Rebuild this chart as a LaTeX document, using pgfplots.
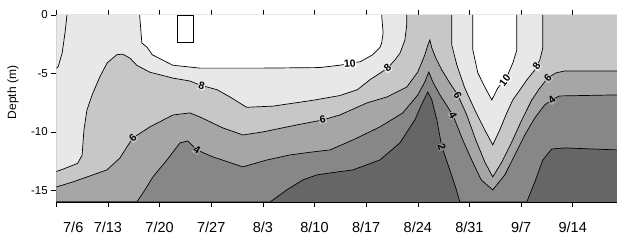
\documentclass[border=0pt]{standalone}
\usepackage{pgfplots}
\pgfplotsset{compat=1.18}
\usepackage{pgfplotstable}
\usepackage{fontspec}
\setmainfont{Liberation Sans}

\definecolor{c10}{gray}{1.0}
\definecolor{c810}{gray}{0.91}
\definecolor{c68}{gray}{0.78}
\definecolor{c46}{gray}{0.65}
\definecolor{c24}{gray}{0.53}
\definecolor{c02}{gray}{0.40}

% contour 2 (lower boundary of the region > 2)
\pgfplotstableread{
x y
0 -16
29.0 -16
31.25 -14.97
33.42 -14.12
35.32 -13.69
37.09 -13.52
40.2 -13.26
43.86 -12.41
46.57 -10.95
48.6 -8.98
49.68 -7.44
50.36 -6.59
50.9 -7.27
51.58 -8.98
52.26 -11.29
53.34 -13.26
54.15 -14.8
54.7 -16
63.77 -16
64.86 -14.29
65.94 -12.41
67.16 -11.47
68.93 -11.38
76 -11.55
}\ctwo

\pgfplotstableread{
x y
0 -16
10.93 -16
12.02 -14.97
13.1 -13.86
15.0 -12.41
16.76 -10.95
17.84 -10.78
19.06 -11.55
21.23 -12.15
25.3 -13.0
28.55 -12.41
31.66 -11.98
34.79 -11.72
37.09 -11.55
40.2 -10.7
43.86 -9.58
46.97 -8.38
49.0 -6.84
49.95 -5.73
50.49 -4.88
51.04 -5.73
52.0 -6.84
53.75 -8.56
55.1 -10.7
56.3 -12.41
57.6 -14.12
59.16 -14.97
60.79 -13.69
62.15 -11.98
63.5 -10.27
64.86 -8.81
66.2 -7.7
67.15 -7.27
68.2 -6.93
76 -6.84
}\cfour

\pgfplotstableread{
x y
0 -14.72
2.26 -14.29
6.87 -13.26
8.63 -12.24
9.58 -11.29
10.39 -10.52
12.69 -9.58
15.81 -8.56
18.11 -8.38
19.47 -8.73
22.59 -9.67
25.3 -10.27
28.0 -10.01
32.61 -9.41
36.14 -8.98
38.44 -8.56
42.09 -7.53
44.8 -7.02
47.52 -6.16
49.0 -4.88
49.95 -3.42
50.36 -2.57
50.63 -2.14
50.9 -2.82
51.44 -3.68
52.26 -4.71
53.34 -5.82
54.42 -6.84
55.64 -8.56
56.86 -10.7
58.08 -12.58
59.16 -13.86
60.39 -12.58
61.74 -10.87
63.1 -8.98
64.45 -7.27
65.54 -6.25
66.62 -5.39
67.71 -4.96
68.93 -4.79
76 -4.79
}\csix

\pgfplotstableread{
x y
0 -13.4
0.9 -13.2
2.9 -12.7
3.5 -12.0
3.75 -9.85
4.15 -8.15
4.85 -6.85
5.9 -5.3
6.9 -4.1
8.2 -3.4
9.0 -3.35
10.0 -3.7
10.9 -4.3
12.7 -4.9
15.8 -5.4
18.1 -5.65
19.5 -6.0
21.8 -6.4
23.5 -7.0
25.8 -7.9
29.4 -7.8
34.8 -7.3
38.4 -6.9
40.8 -6.4
42.5 -5.55
44.9 -4.55
45.9 -3.85
46.6 -3.25
47.25 -2.15
47.5 -0.85
47.5 0
}\ceighta

\pgfplotstableread{
x y
53.61 0
53.61 -2.57
54.29 -4.28
55.37 -6.25
56.73 -8.13
58.08 -9.84
59.16 -11.12
60.11 -9.84
61.06 -8.38
61.88 -7.27
62.83 -6.42
63.77 -5.56
64.86 -4.71
65.54 -3.85
65.94 -2.82
65.94 0
}\ceightb

\pgfplotstableread{
x y
11.3 0
11.6 -2.4
12.3 -2.75
13.0 -3.4
15.8 -4.3
19.5 -4.55
27.6 -4.55
35.7 -4.5
38.4 -4.3
41.2 -4.0
42.9 -3.4
43.9 -2.75
44.1 -2.4
44.3 -1.55
44.1 0
}\ctena

\pgfplotstableread{
x y
56.46 0
56.46 -2.99
57.14 -4.96
58.08 -6.16
59.03 -7.27
59.84 -6.25
61.06 -5.3
61.88 -4.11
62.42 -2.99
62.42 0
}\ctenb

\pgfplotstableread{
x y
1.45 0
1.2 -1.45
0.8 -3.25
0.25 -4.45
0 -4.55
}\cedge

\begin{document}
\begin{tikzpicture}
\begin{axis}[
  name=ax,
  scale only axis,
  width=561pt, height=187pt,
  xmin=0, xmax=76, ymin=-16, ymax=0,
  axis y line*=left,
  axis background/.style={fill=c02},
  xtick={0,7,14,21,28,35,42,49,56,63,70},
  xticklabels={\hspace*{34pt}7/6,7/13,7/20,7/27,8/3,8/10,8/17,8/24,8/31,9/7,9/14},
  ytick={-15,-10,-5,0},
  yticklabels={-15,-10,-5,0},
  tick align=outside,
  major tick length=5pt,
  tick style={black, line width=0.6pt},
  axis line style={black, line width=0.8pt},
  xticklabel style={font=\fontsize{14.5}{16}\selectfont, yshift=-12pt},
  yticklabel style={font=\fontsize{11.5}{13}\selectfont},
  every axis y label/.style={at={(axis description cs:-0.077,0.585)}, rotate=90, anchor=center, font=\fontsize{12}{14}\selectfont},
  ylabel={Depth (m)},
  clip=true,
]
% filled bands, from the lowest level upward
\addplot[fill=c24, draw=none] table {\ctwo} \closedcycle;
\addplot[fill=c46, draw=none] table {\cfour} \closedcycle;
\addplot[fill=c68, draw=none] table {\csix} \closedcycle;
\addplot[fill=c810, draw=none] table {\ceighta} \closedcycle;
\addplot[fill=c810, draw=none] table {\ceightb} \closedcycle;
\addplot[fill=c10, draw=none] table {\ctena} \closedcycle;
\addplot[fill=c10, draw=none] table {\ctenb} \closedcycle;
% contour lines
\addplot[black, line width=0.7pt] table {\ctwo};
\addplot[black, line width=0.7pt] table {\cfour};
\addplot[black, line width=0.7pt] table {\csix};
\addplot[black, line width=0.7pt] table {\ceighta};
\addplot[black, line width=0.7pt] table {\ceightb};
\addplot[black, line width=0.7pt] table {\ctena};
\addplot[black, line width=0.7pt] table {\ctenb};
\addplot[black, line width=0.7pt] table {\cedge};
% box near the surface
\addplot[fill=white, draw=black, line width=0.7pt] coordinates {(16.35,0) (16.35,-2.31) (18.52,-2.31) (18.52,0)} -- cycle;
% contour labels
\begin{scope}[every node/.style={font=\fontsize{10.5}{12}\selectfont\bfseries, inner sep=0.6pt}]
\node[fill=white, rotate=5] at (axis cs:39.8,-4.15) {10};
\node[fill=c810, rotate=-15] at (axis cs:19.7,-6.05) {8};
\node[fill=c810, rotate=40] at (axis cs:44.9,-4.55) {8};
\node[fill=c68, rotate=45] at (axis cs:10.4,-10.5) {6};
\node[fill=c68, rotate=10] at (axis cs:36.1,-8.9) {6};
\node[fill=c46, rotate=-30] at (axis cs:19.06,-11.55) {4};
\node[fill=c68, rotate=-62] at (axis cs:54.42,-6.84) {6};
\node[fill=c46, rotate=-62] at (axis cs:53.75,-8.56) {4};
\node[fill=c24, rotate=-70] at (axis cs:52.26,-11.29) {2};
\node[fill=white, rotate=52] at (axis cs:60.8,-5.6) {10};
\node[fill=c810, rotate=55] at (axis cs:65.1,-4.4) {8};
\node[fill=c68, rotate=45] at (axis cs:66.62,-5.39) {6};
\node[fill=c46, rotate=40] at (axis cs:67.16,-7.27) {4};
\end{scope}
\end{axis}
\pgfresetboundingbox
\useasboundingbox ([xshift=-56.3pt,yshift=-38pt]ax.south west) rectangle ([yshift=15pt]ax.north east);
\end{tikzpicture}
\end{document}
